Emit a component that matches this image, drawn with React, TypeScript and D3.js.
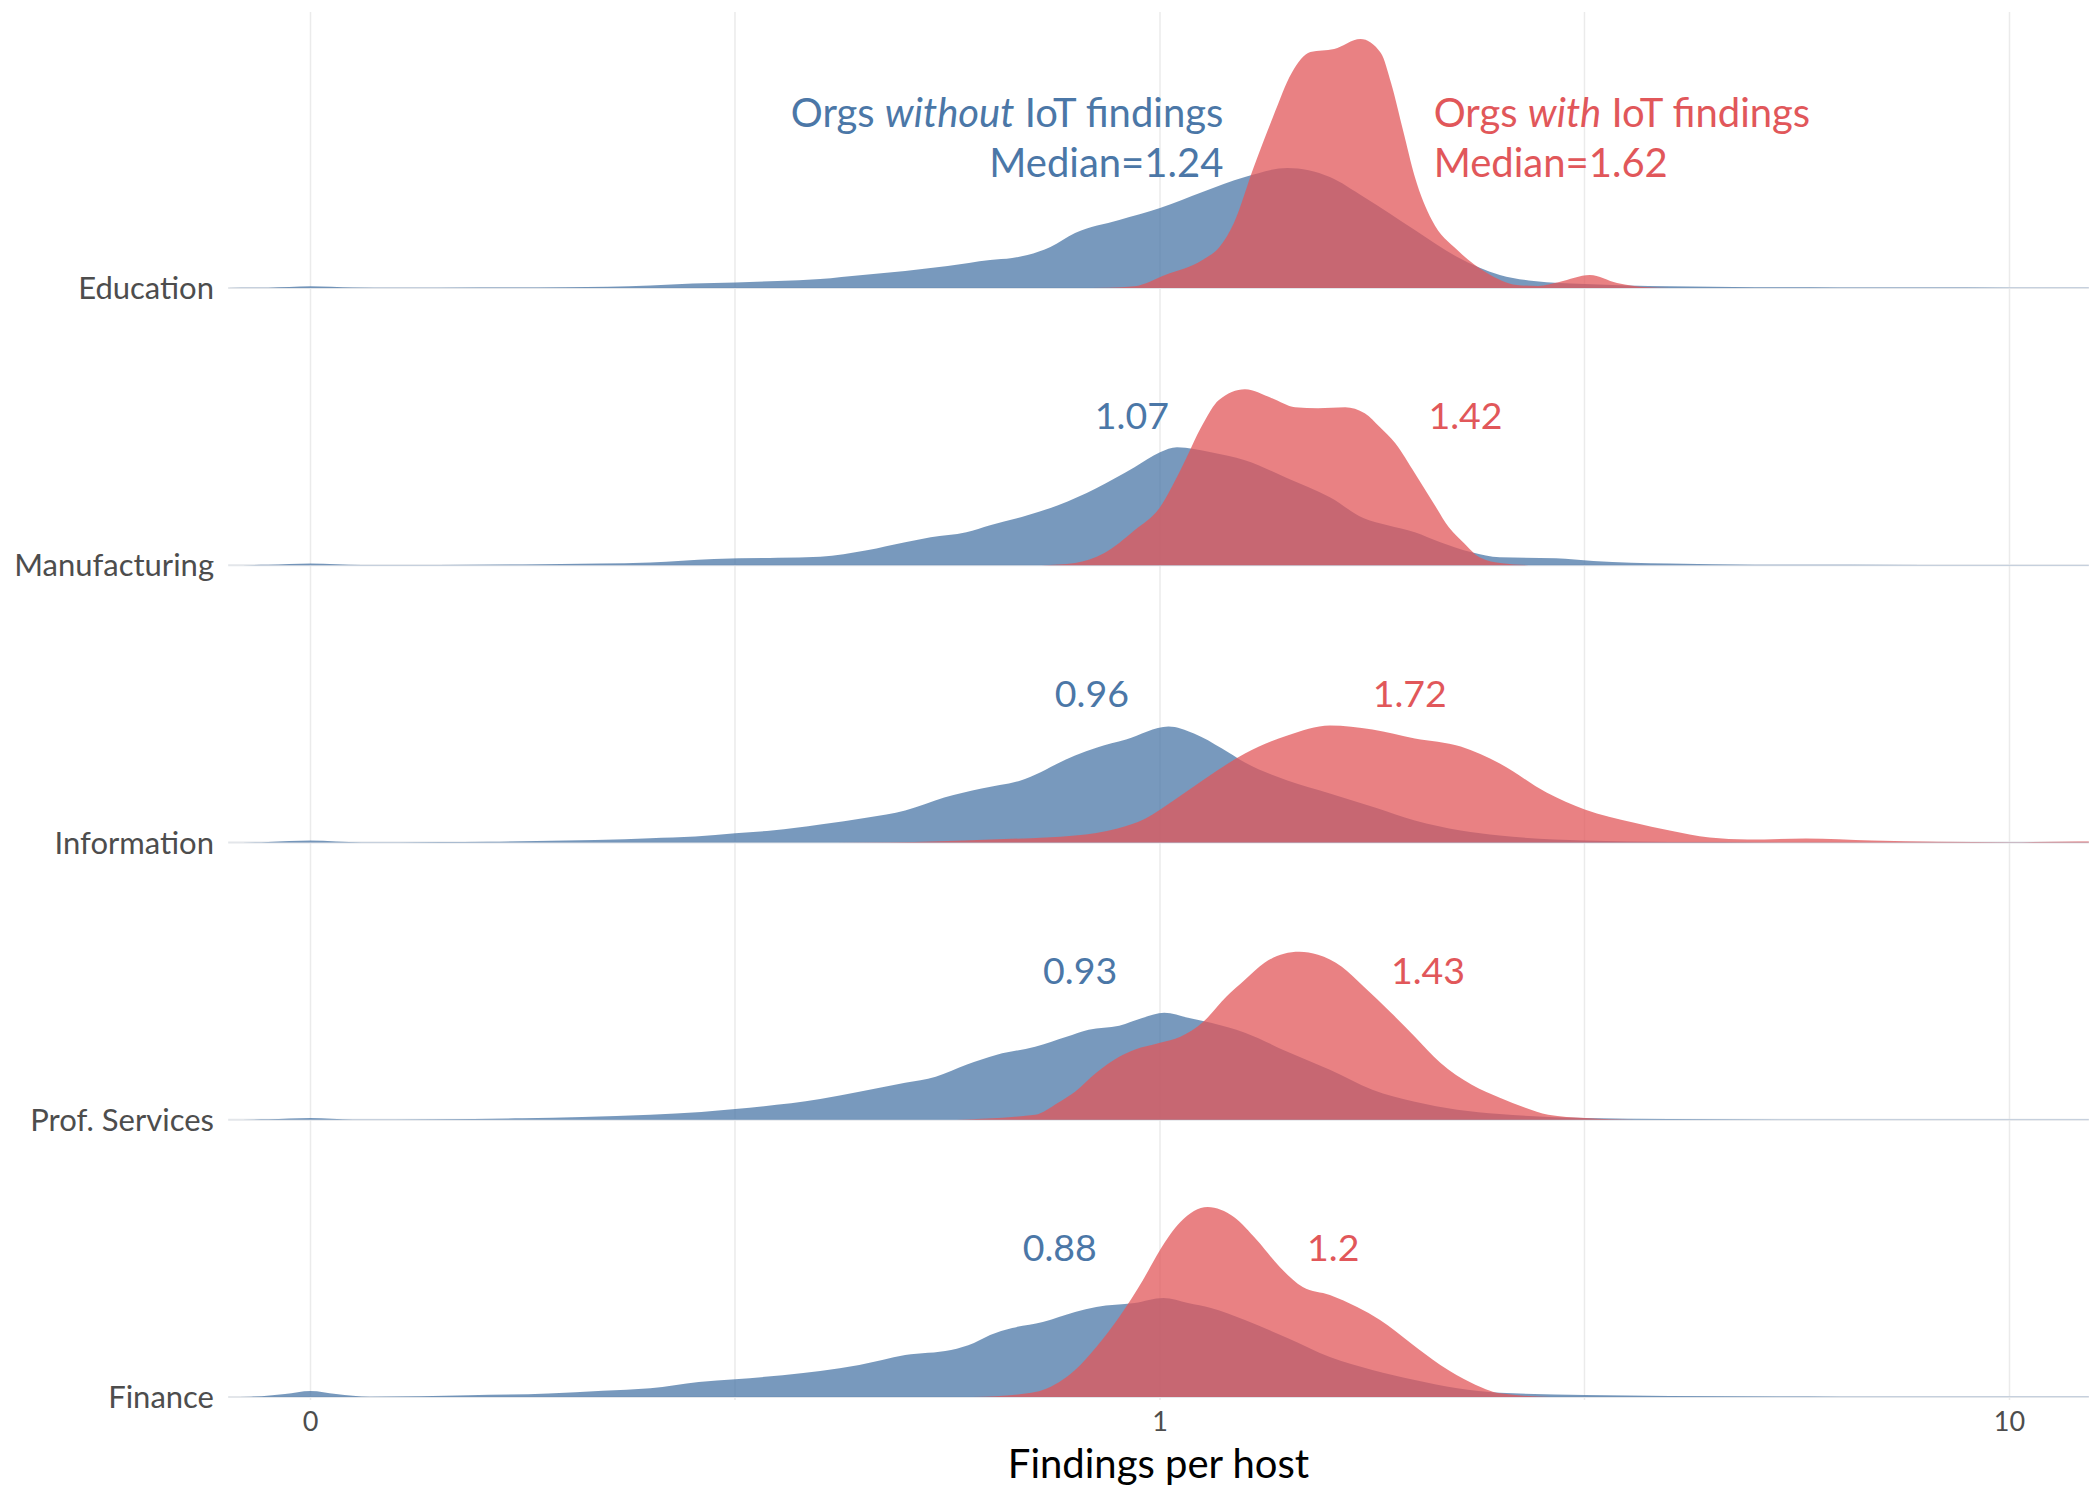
import * as React from 'react';
import * as d3 from 'd3';

// Rows, top to bottom
const industries = ['Education', 'Manufacturing', 'Information', 'Prof. Services', 'Finance'];

// Median findings per host
const mediansWithout = [1.24, 1.07, 0.96, 0.93, 0.88];
const mediansWith = [1.62, 1.42, 1.72, 1.43, 1.2];
// Where the "with" label starts, in findings per host
const withLabelAt = [2.1, 2.07, 1.78, 1.87, 1.49];

const xTicks = [0.1, 1, 10];
const xTickLabels = ['0', '1', '10'];
const xGrid = [0.1, 0.316, 1, 3.16, 10];

type Pt = [number, number];

// Density curves: [log10(findings per host), density]
const eduWithout: Pt[] = [
  [-1.1, 0], [-1.05, 0.003], [-1.0, 0.017], [-0.95, 0.004], [-0.9, 0.002], [-0.8, 0.004], [-0.7, 0.008],
  [-0.65, 0.012], [-0.6, 0.025], [-0.55, 0.045], [-0.5, 0.055], [-0.45, 0.07], [-0.4, 0.09], [-0.35, 0.13],
  [-0.3, 0.17], [-0.25, 0.22], [-0.2, 0.28], [-0.174, 0.3], [-0.156, 0.33], [-0.129, 0.41], [-0.1, 0.55],
  [-0.048, 0.68], [0, 0.8], [0.05, 0.96], [0.1, 1.11], [0.15, 1.2], [0.2, 1.11], [0.24, 0.91], [0.3, 0.58],
  [0.35, 0.31], [0.4, 0.13], [0.44, 0.07], [0.5, 0.04], [0.6, 0.017], [0.7, 0.008], [0.8, 0.005],
  [0.9, 0.004], [1.0, 0.003], [1.1, 0.002],
];
const eduWith: Pt[] = [
  [-0.1, 0], [-0.06, 0.003], [-0.03, 0.017], [0.006, 0.13], [0.05, 0.28], [0.07, 0.41], [0.087, 0.65],
  [0.11, 1.2], [0.133, 1.71], [0.155, 2.15], [0.177, 2.36], [0.205, 2.39], [0.236, 2.49], [0.26, 2.35],
  [0.272, 2.05], [0.286, 1.58], [0.3, 1.11], [0.32, 0.68], [0.35, 0.38], [0.385, 0.15], [0.42, 0.03],
  [0.445, 0.02], [0.47, 0.06], [0.506, 0.13], [0.538, 0.05], [0.574, 0.007], [0.6, 0],
];
const manWithout: Pt[] = [
  [-1.1, 0], [-1.05, 0.005], [-1, 0.017], [-0.94, 0.002], [-0.85, 0.003], [-0.75, 0.008], [-0.66, 0.017],
  [-0.6, 0.027], [-0.525, 0.063], [-0.45, 0.075], [-0.4, 0.085], [-0.345, 0.15], [-0.3, 0.23], [-0.27, 0.28],
  [-0.228, 0.33], [-0.2, 0.4], [-0.156, 0.5], [-0.12, 0.6], [-0.075, 0.77], [-0.03, 0.98], [0, 1.13],
  [0.02, 1.18], [0.06, 1.13], [0.1, 1.05], [0.15, 0.87], [0.2, 0.68], [0.24, 0.47], [0.268, 0.4],
  [0.3, 0.33], [0.33, 0.23], [0.367, 0.13], [0.4, 0.08], [0.466, 0.07], [0.51, 0.043], [0.6, 0.017],
  [0.7, 0.005], [0.9, 0.003], [1.1, 0.002],
];
const manWith: Pt[] = [
  [-0.14, 0], [-0.1, 0.023], [-0.066, 0.12], [-0.03, 0.35], [0, 0.58], [0.024, 0.95], [0.051, 1.42],
  [0.069, 1.65], [0.1, 1.76], [0.132, 1.67], [0.159, 1.58], [0.186, 1.57], [0.218, 1.58], [0.241, 1.52],
  [0.259, 1.38], [0.277, 1.22], [0.3, 0.92], [0.322, 0.62], [0.34, 0.38], [0.358, 0.22], [0.376, 0.08],
  [0.403, 0.02], [0.44, 0],
];
const infWithout: Pt[] = [
  [-1.1, 0], [-1.05, 0.005], [-1, 0.02], [-0.94, 0.002], [-0.85, 0.004], [-0.79, 0.007], [-0.7, 0.02],
  [-0.63, 0.033], [-0.6, 0.043], [-0.547, 0.06], [-0.5, 0.093], [-0.457, 0.12], [-0.4, 0.18], [-0.344, 0.25],
  [-0.3, 0.32], [-0.254, 0.45], [-0.21, 0.54], [-0.164, 0.62], [-0.1, 0.87], [-0.074, 0.95], [-0.04, 1.03],
  [0.01, 1.16], [0.04, 1.09], [0.073, 0.94], [0.1, 0.8], [0.15, 0.62], [0.2, 0.49], [0.253, 0.35],
  [0.3, 0.22], [0.354, 0.12], [0.4, 0.07], [0.5, 0.02], [0.6, 0.005], [0.8, 0.003], [1.1, 0.002],
];
const infWith: Pt[] = [
  [-0.45, 0], [-0.32, 0.003], [-0.2, 0.03], [-0.1, 0.07], [-0.05, 0.14], [-0.017, 0.24], [0.016, 0.42],
  [0.05, 0.62], [0.1, 0.89], [0.15, 1.07], [0.2, 1.17], [0.25, 1.13], [0.3, 1.04], [0.354, 0.96],
  [0.4, 0.79], [0.455, 0.5], [0.5, 0.33], [0.557, 0.2], [0.6, 0.12], [0.647, 0.05], [0.692, 0.03],
  [0.76, 0.04], [0.838, 0.02], [0.917, 0.007], [1.0, 0.003], [1.08, 0.01], [1.12, 0.01],
];
const proWithout: Pt[] = [
  [-1.1, 0], [-1.05, 0.004], [-1, 0.017], [-0.95, 0.003], [-0.85, 0.005], [-0.75, 0.015], [-0.68, 0.027],
  [-0.6, 0.05], [-0.54, 0.077], [-0.5, 0.107], [-0.4, 0.207], [-0.354, 0.28], [-0.3, 0.37], [-0.264, 0.43],
  [-0.228, 0.55], [-0.192, 0.65], [-0.147, 0.73], [-0.11, 0.83], [-0.084, 0.9], [-0.048, 0.94],
  [-0.02, 1.02], [0.005, 1.07], [0.033, 1.02], [0.06, 0.97], [0.1, 0.87], [0.15, 0.68], [0.2, 0.5],
  [0.25, 0.3], [0.3, 0.18], [0.35, 0.1], [0.4, 0.057], [0.5, 0.017], [0.6, 0.007], [0.8, 0.003], [1.1, 0.002],
];
const proWith: Pt[] = [
  [-0.24, 0], [-0.147, 0.05], [-0.12, 0.17], [-0.1, 0.28], [-0.075, 0.47], [-0.048, 0.63], [-0.03, 0.7],
  [0, 0.77], [0.024, 0.83], [0.051, 0.98], [0.078, 1.23], [0.1, 1.4], [0.123, 1.57], [0.146, 1.66],
  [0.164, 1.68], [0.186, 1.65], [0.214, 1.53], [0.24, 1.33], [0.272, 1.07], [0.3, 0.83], [0.33, 0.57],
  [0.367, 0.35], [0.4, 0.22], [0.43, 0.12], [0.457, 0.05], [0.5, 0.017], [0.56, 0],
];
const finWithout: Pt[] = [
  [-1.1, 0], [-1.07, 0.003], [-1.03, 0.03], [-1, 0.06], [-0.97, 0.03], [-0.93, 0.003], [-0.87, 0.008],
  [-0.814, 0.017], [-0.72, 0.035], [-0.656, 0.063], [-0.6, 0.087], [-0.543, 0.15], [-0.5, 0.177],
  [-0.42, 0.24], [-0.4, 0.26], [-0.354, 0.32], [-0.3, 0.42], [-0.246, 0.47], [-0.219, 0.54], [-0.2, 0.62],
  [-0.174, 0.69], [-0.138, 0.75], [-0.1, 0.85], [-0.075, 0.9], [-0.03, 0.94], [0.004, 0.99], [0.033, 0.94],
  [0.06, 0.89], [0.1, 0.77], [0.15, 0.59], [0.2, 0.4], [0.25, 0.27], [0.3, 0.17], [0.35, 0.087],
  [0.4, 0.043], [0.5, 0.02], [0.6, 0.01], [0.8, 0.003], [1.1, 0.002],
];
const finWith: Pt[] = [
  [-0.22, 0], [-0.156, 0.037], [-0.138, 0.07], [-0.1, 0.27], [-0.075, 0.5], [-0.048, 0.8], [-0.02, 1.17],
  [0, 1.47], [0.024, 1.75], [0.056, 1.9], [0.087, 1.8], [0.114, 1.57], [0.141, 1.3], [0.168, 1.1],
  [0.2, 1.02], [0.232, 0.9], [0.259, 0.77], [0.295, 0.54], [0.33, 0.32], [0.367, 0.14], [0.4, 0.037],
  [0.46, 0],
];

const densWithout = [eduWithout, manWithout, infWithout, proWithout, finWithout];
const densWith = [eduWith, manWith, infWith, proWith, finWith];

const BLUE = '#4b77a7';
const RED = '#e1575a';
const FONT = 'Lato, "Open Sans", sans-serif';

const x = d3.scaleLog().domain([0.1, 10]).range([310.5, 2009.5]);
const plotLeft = x(0.08);
const plotRight = x(12.4);
const y = d3.scalePoint<string>().domain(industries).range([288, 1397]);
const h = d3.scaleLinear().domain([0, 1]).range([0, 100]);

function ridge(points: Pt[], base: number): string {
  const area = d3
    .area<Pt>()
    .x((d) => x(Math.pow(10, d[0])))
    .y0(base)
    .y1((d) => base - h(d[1]))
    .curve(d3.curveMonotoneX);
  return area(points) || '';
}

export default function App() {
  return (
    <div style={{ position: 'absolute', left: 0, top: 0 }}>
      <svg width={2100} height={1500} style={{ display: 'block', background: '#fff' }}>
        <defs>
          <clipPath id="plot">
            <rect x={plotLeft} y={0} width={plotRight - plotLeft} height={1500} />
          </clipPath>
        </defs>

        {/* vertical grid */}
        {xGrid.map((v) => (
          <line key={v} x1={x(v)} x2={x(v)} y1={12} y2={1400} stroke="#ebebeb" strokeWidth={1.5} />
        ))}

        {/* row baselines */}
        {industries.map((name) => (
          <line
            key={name}
            x1={plotLeft}
            x2={plotRight}
            y1={y(name)}
            y2={y(name)}
            stroke="#e3e6ea"
            strokeWidth={2}
          />
        ))}

        {/* ridges: without first, with on top */}
        <g clipPath="url(#plot)">
          {industries.map((name, i) => {
            const base = y(name) as number;
            return (
              <g key={name}>
                <path d={ridge(densWithout[i], base)} fill={BLUE} fillOpacity={0.75} />
                <path d={ridge(densWith[i], base)} fill={RED} fillOpacity={0.75} />
              </g>
            );
          })}
        </g>

        {/* row labels */}
        {industries.map((name) => (
          <text
            key={name}
            x={214}
            y={(y(name) as number) + 11}
            textAnchor="end"
            fontFamily={FONT}
            fontSize={31}
            fill="#4d4d4d"
          >
            {name}
          </text>
        ))}

        {/* median labels */}
        {industries.map((name, i) => {
          const base = y(name) as number;
          if (i === 0) {
            return (
              <g key={name} fontFamily={FONT} fontSize={40}>
                <text x={x(mediansWithout[i]) - 16} y={base - 161} textAnchor="end" fill={BLUE}>
                  Orgs <tspan fontStyle="italic">without</tspan> IoT findings
                </text>
                <text x={x(mediansWithout[i]) - 16} y={base - 111} textAnchor="end" fill={BLUE}>
                  {`Median=${mediansWithout[i]}`}
                </text>
                <text x={x(withLabelAt[i])} y={base - 161} fill={RED}>
                  Orgs <tspan fontStyle="italic">with</tspan> IoT findings
                </text>
                <text x={x(withLabelAt[i])} y={base - 111} fill={RED}>
                  {`Median=${mediansWith[i]}`}
                </text>
              </g>
            );
          }
          return (
            <g key={name} fontFamily={FONT} fontSize={37.5}>
              <text x={x(mediansWithout[i]) - 16} y={base - 136} textAnchor="end" fill={BLUE}>
                {String(mediansWithout[i])}
              </text>
              <text x={x(withLabelAt[i])} y={base - 136} fill={RED}>
                {String(mediansWith[i])}
              </text>
            </g>
          );
        })}

        {/* x axis */}
        {xTicks.map((v, i) => (
          <text
            key={v}
            x={x(v)}
            y={1431}
            textAnchor="middle"
            fontFamily={FONT}
            fontSize={27}
            fill="#4d4d4d"
          >
            {xTickLabels[i]}
          </text>
        ))}
        <text
          x={(plotLeft + plotRight) / 2}
          y={1478}
          textAnchor="middle"
          fontFamily={FONT}
          fontSize={40}
          fill="#000"
        >
          Findings per host
        </text>
      </svg>
    </div>
  );
}
